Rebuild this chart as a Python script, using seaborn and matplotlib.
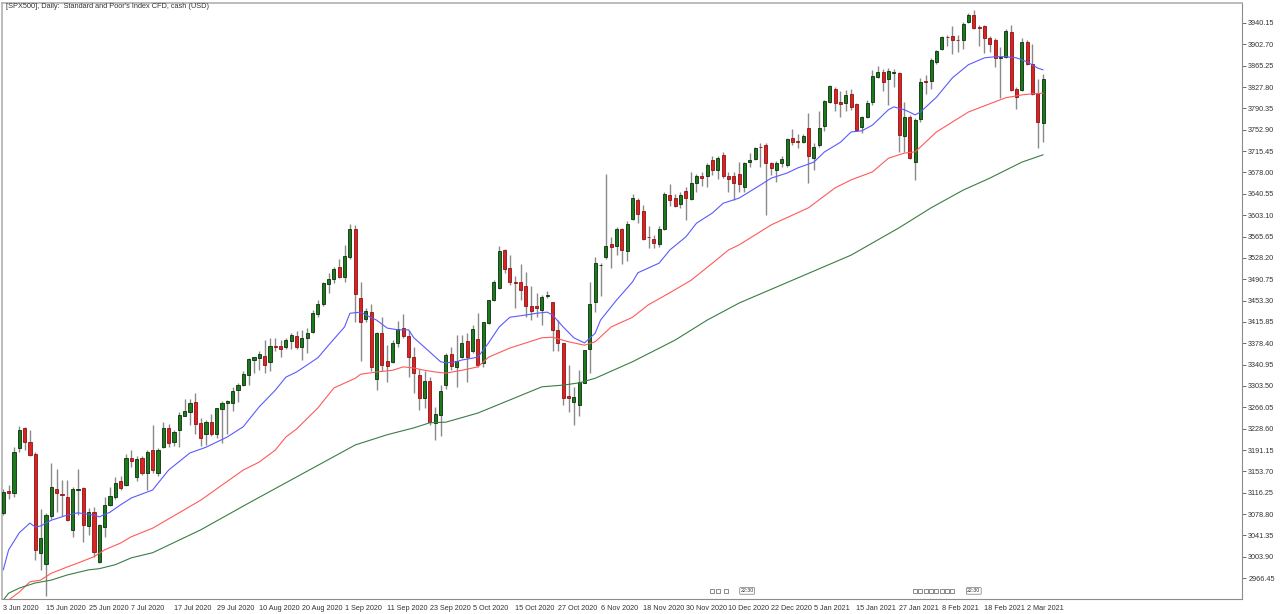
import matplotlib
matplotlib.use('Agg')
import matplotlib.pyplot as plt
import numpy as np
import pandas as pd
import seaborn as sns

# Daily candles, SPX500 CFD, 3 Jun 2020 .. 5 Mar 2021
opens = [3080, 3120, 3115, 3194, 3229, 3206, 3185, 3011, 2992, 3075,
         3122, 3114, 3108, 3051, 3121, 3124, 3058, 3082, 2995, 3056,
         3095, 3109, 3136, 3130, 3178, 3144, 3178, 3150, 3191, 3150,
         3197, 3230, 3206, 3227, 3251, 3257, 3275, 3238, 3219, 3241,
         3220, 3263, 3274, 3273, 3296, 3306, 3323, 3349, 3352, 3356,
         3345, 3374, 3374, 3372, 3383, 3391, 3372, 3387, 3399, 3429,
         3447, 3482, 3491, 3513, 3495, 3530, 3579, 3457, 3421, 3434,
         3316, 3396, 3347, 3346, 3378, 3405, 3392, 3355, 3323, 3282,
         3313, 3238, 3253, 3305, 3359, 3337, 3354, 3383, 3364, 3385,
         3344, 3414, 3454, 3475, 3542, 3511, 3486, 3486, 3479, 3444,
         3444, 3437, 3461, 3450, 3402, 3378, 3286, 3276, 3270, 3309,
         3369, 3451, 3515, 3529, 3552, 3549, 3578, 3540, 3596, 3630,
         3611, 3565, 3561, 3552, 3578, 3638, 3633, 3623, 3645, 3631,
         3660, 3672, 3671, 3699, 3683, 3709, 3671, 3671, 3676, 3653,
         3696, 3702, 3723, 3727, 3694, 3683, 3694, 3691, 3738, 3733,
         3732, 3756, 3703, 3726, 3760, 3802, 3824, 3802, 3799, 3816,
         3798, 3757, 3776, 3802, 3846, 3855, 3842, 3852, 3852, 3742,
         3776, 3697, 3772, 3838, 3838, 3871, 3894, 3916, 3917, 3911,
         3910, 3941, 3955, 3933, 3934, 3914, 3910, 3879, 3881, 3925,
         3825, 3822, 3906, 3869, 3818, 3765]
highs = [3122, 3130, 3197, 3233, 3232, 3227, 3188, 3087, 3080, 3168,
         3157, 3138, 3138, 3126, 3157, 3126, 3089, 3091, 3061, 3109,
         3126, 3143, 3146, 3185, 3192, 3181, 3180, 3191, 3235, 3195,
         3241, 3236, 3226, 3257, 3280, 3280, 3292, 3247, 3244, 3254,
         3264, 3277, 3279, 3302, 3308, 3329, 3353, 3355, 3364, 3384,
         3387, 3387, 3384, 3387, 3396, 3400, 3402, 3405, 3437, 3454,
         3486, 3501, 3513, 3526, 3551, 3587, 3585, 3486, 3440, 3448,
         3398, 3425, 3375, 3384, 3417, 3429, 3402, 3372, 3334, 3329,
         3320, 3267, 3306, 3361, 3372, 3393, 3393, 3396, 3410, 3431,
         3416, 3455, 3489, 3549, 3543, 3533, 3496, 3517, 3503, 3478,
         3466, 3463, 3470, 3451, 3419, 3378, 3340, 3302, 3331, 3367,
         3486, 3530, 3519, 3676, 3565, 3582, 3580, 3593, 3641, 3633,
         3621, 3584, 3568, 3584, 3644, 3657, 3641, 3644, 3653, 3678,
         3676, 3679, 3694, 3706, 3707, 3713, 3679, 3678, 3697, 3697,
         3712, 3723, 3729, 3729, 3697, 3698, 3706, 3738, 3755, 3745,
         3745, 3782, 3729, 3785, 3805, 3831, 3828, 3821, 3823, 3824,
         3799, 3777, 3805, 3858, 3865, 3859, 3861, 3860, 3855, 3802,
         3779, 3773, 3844, 3849, 3878, 3893, 3918, 3919, 3934, 3919,
         3942, 3957, 3963, 3937, 3937, 3918, 3913, 3898, 3930, 3937,
         3827, 3914, 3910, 3903, 3842, 3850]
lows = [3077, 3106, 3108, 3188, 3191, 3181, 2998, 2981, 2935, 3071,
        3083, 3075, 3067, 3039, 3077, 3030, 3042, 3004, 2993, 3039,
        3093, 3106, 3121, 3128, 3162, 3136, 3147, 3121, 3150, 3145,
        3195, 3197, 3198, 3197, 3250, 3235, 3220, 3198, 3200, 3215,
        3212, 3203, 3220, 3260, 3276, 3304, 3305, 3327, 3331, 3326,
        3329, 3364, 3355, 3369, 3369, 3368, 3349, 3361, 3396, 3425,
        3443, 3467, 3484, 3492, 3485, 3527, 3416, 3347, 3416, 3329,
        3297, 3329, 3311, 3343, 3372, 3387, 3320, 3291, 3261, 3264,
        3235, 3209, 3216, 3298, 3332, 3302, 3352, 3310, 3361, 3337,
        3337, 3413, 3453, 3474, 3501, 3481, 3440, 3454, 3425, 3419,
        3425, 3410, 3457, 3364, 3364, 3270, 3258, 3235, 3250, 3308,
        3327, 3434, 3461, 3527, 3510, 3533, 3517, 3522, 3595, 3589,
        3559, 3545, 3545, 3547, 3577, 3620, 3617, 3615, 3595, 3629,
        3644, 3655, 3653, 3674, 3666, 3669, 3644, 3630, 3644, 3644,
        3688, 3700, 3688, 3603, 3673, 3662, 3688, 3688, 3726, 3721,
        3729, 3659, 3682, 3723, 3750, 3799, 3786, 3776, 3785, 3788,
        3751, 3748, 3774, 3797, 3843, 3821, 3796, 3828, 3714, 3714,
        3702, 3665, 3767, 3815, 3825, 3869, 3893, 3900, 3885, 3890,
        3894, 3940, 3930, 3900, 3887, 3890, 3863, 3808, 3878, 3821,
        3790, 3821, 3866, 3814, 3721, 3731]
closes = [3118, 3116, 3188, 3227, 3206, 3182, 3016, 3037, 3077, 3126,
          3116, 3112, 3068, 3123, 3122, 3060, 3083, 3013, 3060, 3095,
          3111, 3134, 3124, 3178, 3172, 3175, 3150, 3188, 3156, 3192,
          3229, 3203, 3222, 3252, 3260, 3273, 3236, 3212, 3241, 3219,
          3264, 3274, 3277, 3295, 3306, 3324, 3350, 3354, 3359, 3341,
          3374, 3372, 3368, 3384, 3393, 3371, 3387, 3396, 3431, 3448,
          3484, 3491, 3509, 3494, 3531, 3579, 3464, 3416, 3435, 3337,
          3396, 3340, 3339, 3378, 3403, 3392, 3355, 3326, 3282, 3313,
          3241, 3254, 3295, 3358, 3339, 3347, 3378, 3355, 3403, 3340,
          3416, 3454, 3486, 3540, 3509, 3486, 3484, 3471, 3443, 3435,
          3440, 3459, 3463, 3402, 3378, 3282, 3283, 3285, 3310, 3367,
          3448, 3519, 3516, 3549, 3548, 3579, 3542, 3587, 3633, 3605,
          3561, 3564, 3555, 3579, 3641, 3630, 3619, 3638, 3634, 3659,
          3672, 3669, 3691, 3682, 3703, 3672, 3666, 3660, 3658, 3694,
          3700, 3721, 3722, 3694, 3685, 3694, 3701, 3736, 3731, 3732,
          3742, 3706, 3723, 3756, 3803, 3830, 3799, 3798, 3813, 3793,
          3752, 3776, 3800, 3848, 3855, 3837, 3856, 3854, 3744, 3776,
          3704, 3770, 3836, 3837, 3875, 3891, 3916, 3915, 3911, 3910,
          3939, 3955, 3932, 3931, 3914, 3903, 3879, 3881, 3926, 3823,
          3811, 3906, 3869, 3815, 3767, 3842]

# moving averages (bar index, value)
ma_fast_idx = [0, 1, 3, 5, 6, 7, 9, 12, 14, 17, 18, 20, 22, 24, 28, 31, 35, 38, 42, 45,
               48, 51, 53, 55, 59, 61, 64, 65, 67, 68, 70, 72, 74, 76, 77, 80, 82, 83, 85, 86,
               89, 91, 93, 95, 98, 100, 102, 103, 105, 107, 109, 111, 112, 115, 118, 119, 123, 125,
               128, 130, 133, 135, 138, 142, 144, 147, 149, 152, 154, 157, 159, 161, 163, 166,
               167, 169, 171, 172, 175, 178, 181, 184, 186, 188, 190, 192, 194, 195]
ma_fast = [2981, 3016, 3046, 3063, 3056, 3058, 3068, 3077, 3081, 3077, 3074, 3082, 3095, 3107,
           3121, 3156, 3186, 3196, 3214, 3232, 3267, 3296, 3319, 3328, 3353, 3375, 3407, 3431,
           3433, 3428, 3419, 3405, 3402, 3402, 3388, 3363, 3346, 3344, 3346, 3349, 3354, 3379,
           3407, 3424, 3428, 3431, 3433, 3428, 3407, 3388, 3379, 3396, 3419, 3454, 3486, 3502,
           3519, 3542, 3565, 3589, 3607, 3624, 3633, 3656, 3668, 3677, 3686, 3696, 3714, 3731,
           3749, 3751, 3761, 3788, 3793, 3788, 3779, 3784, 3810, 3844, 3867, 3879, 3881, 3881,
           3879, 3872, 3861, 3858]
ma_mid_idx = [1, 3, 5, 7, 9, 12, 14, 17, 19, 22, 24, 28, 37, 45, 48, 51, 53, 55, 59, 62,
              66, 67, 70, 73, 75, 77, 79, 81, 83, 86, 89, 91, 95, 98, 101, 103, 106, 109, 111,
              114, 118, 121, 125, 129, 133, 136, 138, 144, 151, 156, 159, 163, 166, 169, 171,
              175, 181, 186, 188, 191, 193, 195]
ma_mid = [2928, 2942, 2960, 2963, 2975, 2986, 2993, 3004, 3016, 3028, 3039, 3054, 3103, 3156,
          3170, 3191, 3214, 3228, 3265, 3300, 3317, 3324, 3328, 3331, 3337, 3335, 3331, 3328,
          3326, 3331, 3337, 3354, 3370, 3379, 3388, 3389, 3381, 3375, 3381, 3407, 3424, 3446,
          3467, 3489, 3519, 3542, 3551, 3586, 3616, 3651, 3665, 3679, 3703, 3712, 3714, 3749,
          3784, 3802, 3809, 3814, 3816, 3817]
ma_slow_idx = [0, 1, 3, 6, 9, 12, 16, 18, 21, 24, 28, 37, 46, 56, 66, 72, 77, 80, 83, 89,
               95, 101, 105, 108, 111, 118, 126, 132, 138, 149, 159, 168, 174, 180, 185, 191, 195]
ma_slow = [2928, 2940, 2949, 2958, 2963, 2972, 2981, 2983, 2990, 3002, 3011, 3051, 3098, 3149,
           3200, 3218, 3230, 3239, 3240, 3256, 3279, 3302, 3305, 3309, 3317, 3346, 3384, 3419,
           3449, 3493, 3533, 3581, 3616, 3647, 3668, 3696, 3709]

x_labels = ['3 Jun 2020', '15 Jun 2020', '25 Jun 2020', '7 Jul 2020', '17 Jul 2020',
            '29 Jul 2020', '10 Aug 2020', '20 Aug 2020', '1 Sep 2020', '11 Sep 2020',
            '23 Sep 2020', '5 Oct 2020', '15 Oct 2020', '27 Oct 2020', '6 Nov 2020',
            '18 Nov 2020', '30 Nov 2020', '10 Dec 2020', '22 Dec 2020', '5 Jan 2021',
            '15 Jan 2021', '27 Jan 2021', '8 Feb 2021', '18 Feb 2021', '2 Mar 2021']
y_ticks = [2966.45, 3003.90, 3041.35, 3078.80, 3116.25, 3153.70, 3191.15, 3228.60,
           3266.05, 3303.50, 3340.95, 3378.40, 3415.85, 3453.30, 3490.75, 3528.20,
           3565.65, 3603.10, 3640.55, 3678.00, 3715.45, 3752.90, 3790.35, 3827.80,
           3865.25, 3902.70, 3940.15]

# trading days of the CFD (no bars on 25 Dec and 1 Jan)
dates = pd.bdate_range('2020-06-03', '2021-03-05')
dates = dates.drop(pd.to_datetime(['2020-12-25', '2021-01-01']))
assert len(dates) == len(closes)

df = pd.DataFrame({'date': dates, 'open': opens, 'high': highs, 'low': lows, 'close': closes})
df['i'] = np.arange(len(df))
up = df['close'] >= df['open']

sns.set_style('white')
plt.rcParams['font.family'] = ['Liberation Sans', 'DejaVu Sans']

fig = plt.figure(figsize=(12.8, 6.14), dpi=100)
ax = fig.add_axes([2 / 1280, 1 - 599 / 614, 1240 / 1280, 596 / 614])

# wicks
ax.vlines(df['i'], df['low'], df['high'], color='#8a8a8a', lw=1, zorder=2)
# bodies
body_h = (df['close'] - df['open']).abs().clip(lower=0.9)
body_b = df[['open', 'close']].min(axis=1)
ax.bar(df['i'][up], body_h[up], bottom=body_b[up], width=0.6,
       color='#1b7a1b', edgecolor='#0b2f0b', lw=0.6, zorder=3)
ax.bar(df['i'][~up], body_h[~up], bottom=body_b[~up], width=0.6,
       color='#d92424', edgecolor='#8e1313', lw=0.6, zorder=3)

# moving averages
sns.lineplot(x=ma_fast_idx, y=ma_fast, color='#5a5aff', lw=0.8, ax=ax, zorder=4)
sns.lineplot(x=ma_mid_idx, y=ma_mid, color='#ff5a5a', lw=0.8, ax=ax, zorder=4)
sns.lineplot(x=ma_slow_idx, y=ma_slow, color='#3a7d44', lw=0.8, ax=ax, zorder=4)

ax.set_xlim(-0.24, 232.3)
ax.set_ylim(2929.85, 3975.2)

# axes styling like the terminal chart
ax.yaxis.tick_right()
ax.set_yticks(y_ticks)
ax.set_yticklabels([f'{v:.2f}' for v in y_ticks])
tick_pos = [dates.get_loc(pd.to_datetime(s, format='%d %b %Y')) for s in x_labels]
ax.set_xticks(tick_pos)
ax.set_xticklabels(x_labels, ha='left')
ax.tick_params(axis='both', direction='out', length=3, width=0.6, color='#555555',
               labelsize=5.2, labelcolor='#333333')
ax.tick_params(axis='y', pad=1.5)
ax.tick_params(axis='x', pad=1.5)
ax.set_xlabel('')
ax.set_ylabel('')
for side in ['left', 'top']:
    ax.spines[side].set_color('#b0b0b0')
    ax.spines[side].set_linewidth(1.2)
for side in ['right', 'bottom']:
    ax.spines[side].set_color('#8c8c8c')
    ax.spines[side].set_linewidth(0.8)

# economic calendar markers along the bottom
y_ev = 2944
for grp, lab in [([133, 134, 135.5], 139.5), ([171, 172, 173, 174, 175, 176, 177, 178], 182)]:
    ax.plot(grp, [y_ev] * len(grp), ls='none', marker='s', ms=3.2, mfc='white',
            mec='#777777', mew=0.6, zorder=5)
    ax.text(lab, y_ev, '22:30', fontsize=3.8, ha='center', va='center', color='#333333',
            bbox=dict(boxstyle='round,pad=0.15', fc='white', ec='#777777', lw=0.5), zorder=5)

fig.text(6 / 1280, 1 - 7 / 614, "[SPX500], Daily:  Standard and Poor's Index CFD, cash (USD)",
         fontsize=5.3, color='#333333', ha='left', va='center')

fig.savefig('out.png', dpi=100, facecolor='white')
